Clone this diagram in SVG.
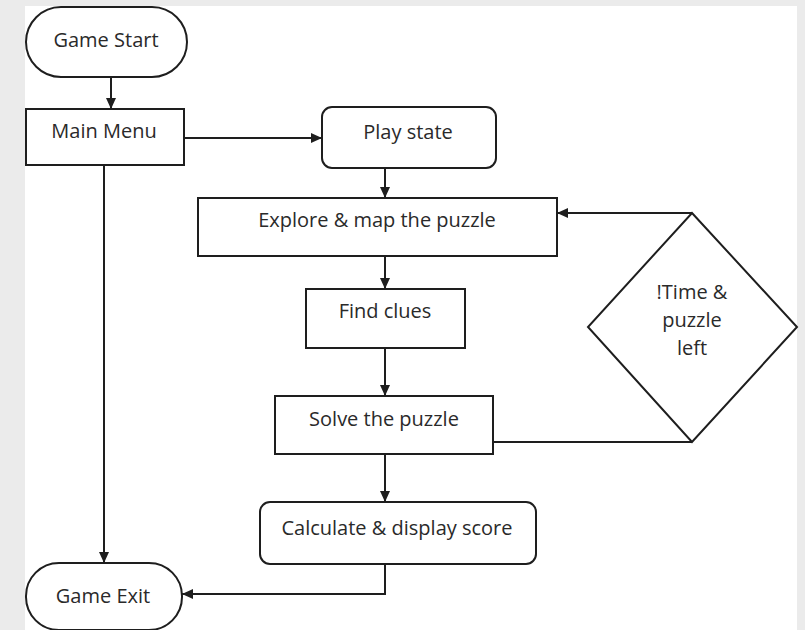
<svg xmlns="http://www.w3.org/2000/svg" width="805" height="630" viewBox="0 0 805 630">
<defs>
<marker id="ah" markerUnits="userSpaceOnUse" markerWidth="11" markerHeight="10" refX="11" refY="5" orient="auto">
<path d="M0,0 L11,5 L0,10 z" fill="#1e1e1e"/>
</marker>
<style>
.shape{fill:#fff;stroke:#1e1e1e;stroke-width:2}
.lbl{font-family:"Open Sans","Liberation Sans",Arial,sans-serif;font-size:20px;fill:#2a2a2a;text-anchor:middle}
.conn{fill:none;stroke:#1e1e1e;stroke-width:2}
</style>
</defs>
<rect x="0" y="0" width="805" height="630" fill="#ebebeb"/>
<rect x="25" y="6" width="772" height="630" fill="#ffffff"/>
<g id="game-start">
<rect class="shape" x="26" y="7" width="161" height="70" rx="35"/>
<text class="lbl" x="106" y="47">Game Start</text>
</g>
<g id="main-menu">
<rect class="shape" x="26" y="109" width="158" height="56"/>
<text class="lbl" x="104" y="138">Main Menu</text>
</g>
<g id="play-state">
<rect class="shape" x="322" y="107" width="174" height="61" rx="10"/>
<text class="lbl" x="408" y="139">Play state</text>
</g>
<g id="explore">
<rect class="shape" x="198" y="198" width="359" height="58"/>
<text class="lbl" x="377" y="227">Explore &amp; map the puzzle</text>
</g>
<g id="find-clues">
<rect class="shape" x="306" y="289" width="159" height="59"/>
<text class="lbl" x="385" y="318">Find clues</text>
</g>
<g id="solve">
<rect class="shape" x="275" y="396" width="218" height="58"/>
<text class="lbl" x="384" y="426">Solve the puzzle</text>
</g>
<g id="decision">
<polygon class="shape" points="692,213 797,327 692,442 588,327"/>
<text class="lbl" x="692" y="299">!Time &amp;</text>
<text class="lbl" x="692" y="327">puzzle</text>
<text class="lbl" x="692" y="355">left</text>
</g>
<g id="calculate">
<rect class="shape" x="260" y="502" width="276" height="62" rx="10"/>
<text class="lbl" x="397" y="535">Calculate &amp; display score</text>
</g>
<g id="game-exit">
<rect class="shape" x="26" y="563" width="156" height="67" rx="33"/>
<text class="lbl" x="103" y="603">Game Exit</text>
</g>
<g id="connectors">
<line class="conn" x1="111" y1="77" x2="111" y2="109" marker-end="url(#ah)"/>
<line class="conn" x1="184" y1="138" x2="322" y2="138" marker-end="url(#ah)"/>
<line class="conn" x1="104" y1="165" x2="104" y2="563" marker-end="url(#ah)"/>
<line class="conn" x1="385" y1="168" x2="385" y2="198" marker-end="url(#ah)"/>
<line class="conn" x1="385" y1="256" x2="385" y2="289" marker-end="url(#ah)"/>
<line class="conn" x1="385" y1="348" x2="385" y2="396" marker-end="url(#ah)"/>
<line class="conn" x1="385" y1="454" x2="385" y2="502" marker-end="url(#ah)"/>
<polyline class="conn" points="385,564 385,594 182,594" marker-end="url(#ah)"/>
<line class="conn" x1="493" y1="442" x2="692" y2="442"/>
<line class="conn" x1="692" y1="213" x2="557" y2="213" marker-end="url(#ah)"/>
</g>
</svg>
